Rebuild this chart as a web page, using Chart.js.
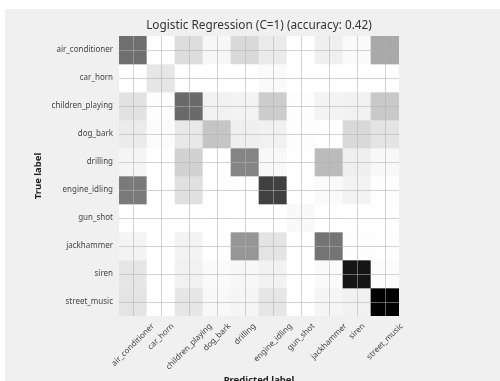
<!DOCTYPE html>
<html>
<head>
<meta charset="utf-8">
<script src="https://cdn.jsdelivr.net/npm/chart.js@4.4.1/dist/chart.umd.min.js"></script>
<style>
  body { margin: 0; background: #ffffff; }
  #wrap { position: absolute; left: 5px; top: 9px; width: 495px; height: 372px; background: #f0f0f0; overflow: hidden; }
</style>
</head>
<body>
<div id="wrap"><canvas id="myChart" width="495" height="372"></canvas></div>
<script>
const predictedLabels = ["air_conditioner", "car_horn", "children_playing", "dog_bark", "drilling",
  "engine_idling", "gun_shot", "jackhammer", "siren", "street_music"];
const trueLabels = predictedLabels.slice();

// cell intensity, % of the largest cell
const rowAirConditioner = [64, 0, 23, 7, 25, 15, 0, 13, 4, 44];
const rowCarHorn = [0, 18, 1, 0, 0, 4, 0, 0, 0, 0];
const rowChildrenPlaying = [20, 2, 66, 12, 10, 31, 2, 10, 12, 32];
const rowDogBark = [15, 3, 17, 34, 13, 12, 2, 0, 25, 19];
const rowDrilling = [8, 0, 28, 0, 56, 6, 1, 38, 13, 6];
const rowEngineIdling = [60, 0, 21, 1, 0, 80, 0, 4, 10, 1];
const rowGunShot = [0, 0, 0, 1, 0, 0, 5, 1, 0, 0];
const rowJackhammer = [9, 0, 10, 0, 50, 19, 0, 62, 2, 1];
const rowSiren = [18, 0, 12, 4, 7, 11, 0, 4, 93, 3];
const rowStreetMusic = [19, 0, 18, 6, 8, 18, 0, 8, 12, 100];

const rows = [rowAirConditioner, rowCarHorn, rowChildrenPlaying, rowDogBark, rowDrilling,
  rowEngineIdling, rowGunShot, rowJackhammer, rowSiren, rowStreetMusic];

// matplotlib "Greys" stops
const greyStops = [255, 240, 217, 189, 150, 115, 82, 37, 0];
function greys(v) {
  let t = Math.max(0, Math.min(1, v / 100)) * 8;
  let i = Math.min(7, Math.floor(t));
  let g = Math.round(greyStops[i] + (greyStops[i + 1] - greyStops[i]) * (t - i));
  return "rgb(" + g + "," + g + "," + g + ")";
}

// x labels centred on the tick, rotated 45 deg (like matplotlib rotation=45)
const xLabelPlugin = {
  id: "xLabels",
  afterDraw(chart) {
    const xs = chart.scales.x;
    const c = chart.ctx;
    c.save();
    c.font = '8px "Noto Sans"';
    c.fillStyle = "#444444";
    c.textAlign = "center";
    c.textBaseline = "middle";
    predictedLabels.forEach((lab, i) => {
      const w = c.measureText(lab).width;
      const d = (w + 8) * Math.SQRT1_2 / 2;
      c.save();
      c.translate(xs.getPixelForValue(i), xs.top + 6 + d);
      c.rotate(-Math.PI / 4);
      c.fillText(lab, 0, 0);
      c.restore();
    });
    c.restore();
  },
};

const ctx = document.getElementById("myChart");
const myChart = new Chart(ctx, {
  type: "bar",
  data: {
    labels: predictedLabels,
    datasets: rows.map((r, i) => ({
      label: trueLabels[i],
      data: r.map(() => 1),
      backgroundColor: r.map((v) => greys(v)),
      borderWidth: 0,
      barPercentage: 1,
      categoryPercentage: 1,
    })),
  },
  plugins: [xLabelPlugin],
  options: {
    responsive: false,
    animation: false,
    layout: { padding: { left: 0, right: 101, top: 0, bottom: 0 } },
    plugins: {
      legend: { display: false },
      tooltip: { enabled: false },
      title: {
        display: true,
        text: "Logistic Regression (C=1) (accuracy: 0.42)",
        fullSize: false,
        color: "#333333",
        font: { family: "Noto Sans", size: 11.8, weight: "normal" },
        padding: { top: 10, bottom: 2.84 },
      },
    },
    scales: {
      x: {
        stacked: true,
        grid: { offset: false, color: "rgba(176,176,176,0.55)", drawTicks: false, z: 1 },
        border: { display: false },
        ticks: { display: false },
        title: {
          display: true,
          text: "Predicted label",
          color: "#222222",
          font: { family: "Noto Sans", size: 9.5, weight: "bold" },
          padding: { top: 0, bottom: -5 },
        },
        afterFit: (scale) => { scale.height = 65; },
      },
      y: {
        stacked: true,
        reverse: true,
        min: 0,
        max: 10,
        grid: { color: "rgba(176,176,176,0.55)", drawTicks: false, z: 1 },
        border: { display: false },
        afterBuildTicks: (scale) => {
          scale.ticks = trueLabels.map((l, i) => ({ value: i + 0.5 }));
        },
        ticks: {
          padding: 6,
          color: "#444444",
          font: { family: "Noto Sans", size: 8 },
          callback: (value) => trueLabels[Math.floor(value)],
        },
        title: {
          display: true,
          text: "True label",
          color: "#222222",
          font: { family: "Noto Sans", size: 9.5, weight: "bold" },
          padding: { top: 28, bottom: 0 },
        },
        afterFit: (scale) => { scale.width = 114; },
      },
    },
  },
});
</script>
</body>
</html>
